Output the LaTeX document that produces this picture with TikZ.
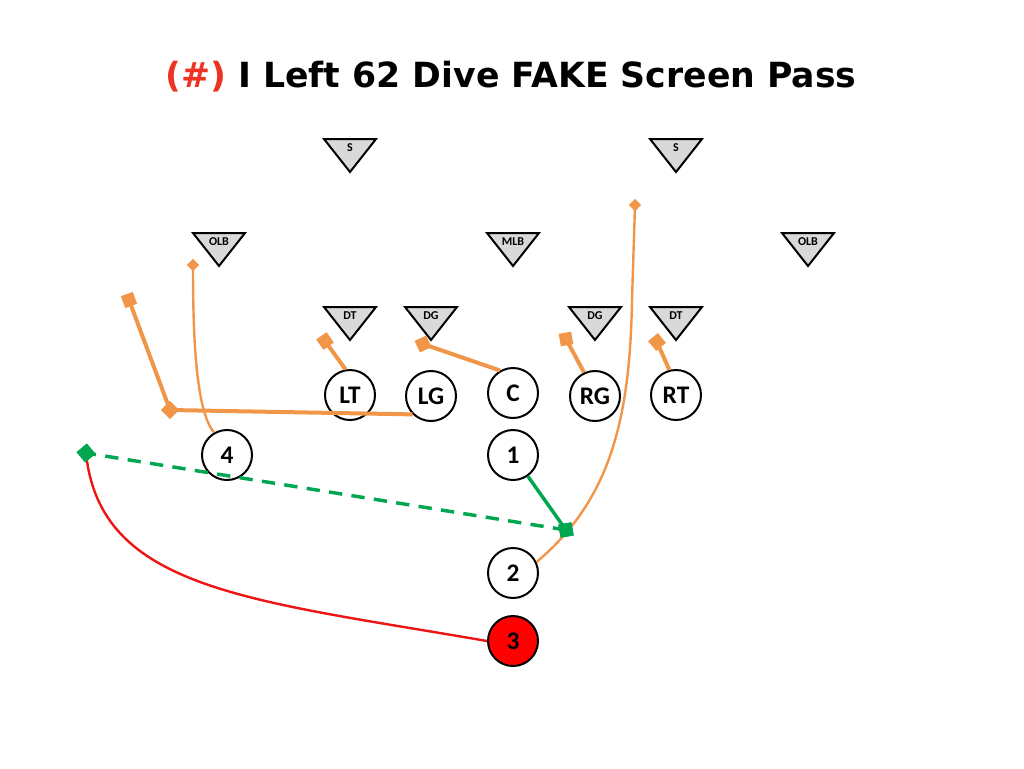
\documentclass[tikz,border=0pt]{standalone}
\usepackage{fontspec}
\setmainfont{Carlito}
\newfontfamily\titlefont{DejaVu Sans}
\usetikzlibrary{shapes.geometric}
\definecolor{rorange}{RGB}{241,150,72}
\definecolor{rgreen}{RGB}{0,166,80}
\definecolor{rred}{RGB}{238,20,20}
\definecolor{tgray}{RGB}{217,217,217}
\tikzset{
  player/.style={circle,draw=black,line width=1.5pt,fill=white,minimum size=37.5pt,inner sep=0pt,font=\fontsize{19}{19}\selectfont\bfseries},
  deftri/.pic={\draw[line width=1.5pt,fill=tgray,line join=miter] (-26,-16) -- (26,-16) -- (0,17) -- cycle;},
  tlabel/.style={font=\fontsize{9}{10}\selectfont\bfseries,inner sep=0pt},
  thickroute/.style={rorange,line width=3pt},
  thinroute/.style={rorange,line width=1.8pt},
  bigmark/.style={rectangle,fill=rorange,minimum size=9.5pt,inner sep=0pt},
  smallmark/.style={rectangle,fill=rorange,minimum size=6.5pt,inner sep=0pt},
  gmark/.style={rectangle,fill=rgreen,minimum size=10pt,inner sep=0pt},
}
\begin{document}
\begin{tikzpicture}[x=0.75pt,y=-0.75pt]
\useasboundingbox (0,0) rectangle (1024,768);
% title
\node[font=\titlefont\fontsize{26}{30}\selectfont\bfseries,inner sep=0pt] (title) at (511,77) {\textcolor[RGB]{238,50,36}{(\#)} I Left 62 Dive FAKE Screen Pass};
% defenders
\foreach \nm/\x/\y/\t in {s1/350/155/S, s2/676/155/S, olb1/219/249/OLB, mlb/513/249/MLB, olb2/808/249/OLB, dt1/350/323/DT, dg1/431/323/DG, dg2/595/323/DG, dt2/676/323/DT}{
  \pic at (\x,\y) {deftri};
  \node[tlabel] (\nm) at (\x,\y-7) {\t};
}
% markers
\node[bigmark,rotate=35] (mLT) at (325,341) {};
\node[bigmark,rotate=25] (mC) at (423,344) {};
\node[bigmark,rotate=10] (mRG) at (566,339) {};
\node[bigmark,rotate=40] (mRT) at (657,342) {};
\node[bigmark,rotate=45] (mLG1) at (170,410) {};
\node[bigmark,rotate=20] (mLG2) at (129,300) {};
\node[smallmark,rotate=45] (m4) at (193,265) {};
\node[smallmark,rotate=45] (m2) at (635,205) {};
\node[gmark,rotate=10] (g1) at (566,530) {};
\node[gmark,rotate=40] (g2) at (86,453) {};
% players
\node[player] (LT) at (350,395) {LT};
\node[player] (LG) at (431,396) {LG};
\node[player] (C) at (513,393) {C};
\node[player] (RG) at (595,396) {RG};
\node[player] (RT) at (676,395) {RT};
\node[player] (p4) at (227,455) {4};
\node[player] (p1) at (513,455) {1};
\node[player] (p2) at (513,573) {2};
\node[player,fill=red] (p3) at (513,641) {3};
% orange routes
\draw[thickroute] (LT.100) -- (mLT.center);
\draw[thickroute] (C.120) -- (mC.center);
\draw[thickroute] (RG.115) -- (mRG.center);
\draw[thickroute] (RT.105) -- (mRT.center);
\draw[thickroute] (LG.south west) -- (mLG1.center) -- (mLG2.center);
\draw[thinroute] (p4.120) .. controls (195,410) and (193,330) .. (m4.center);
\draw[thinroute] (p2.25) .. controls (610,500) and (630,420) .. (632,300) -- (m2.center);
% green
\draw[rgreen,line width=2.6pt] (p1.-55) -- (g1.center);
\draw[rgreen,line width=2.6pt,dash pattern=on 10pt off 7pt] (g1.center) -- (g2.center);
% red
\draw[rred,line width=1.8pt] (p3.west) .. controls (250,600) and (100,590) .. (g2.center);
% redraw markers on top
\node[gmark,rotate=10] at (g1) {};
\node[gmark,rotate=40] at (g2) {};
\node[bigmark,rotate=45] at (mLG1) {};
\end{tikzpicture}
\end{document}
